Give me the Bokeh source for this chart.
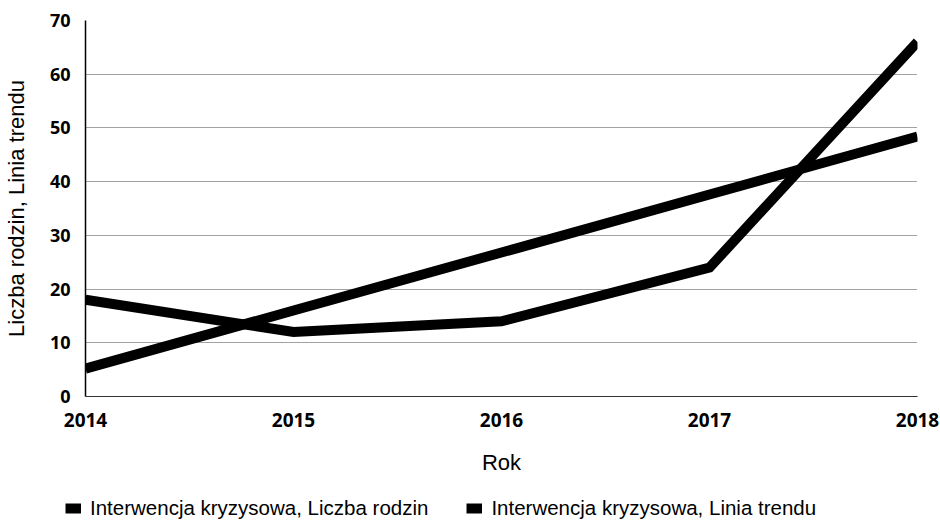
from bokeh.plotting import figure
from bokeh.models import Legend, LegendItem, Range1d, FixedTicker
from bokeh.embed import file_html
from bokeh.resources import INLINE

years = [2014, 2015, 2016, 2017, 2018]
families = [18, 12, 14, 24, 66]
trend = [5.2, 16.0, 26.8, 37.6, 48.4]
y_ticks = [0, 10, 20, 30, 40, 50, 60, 70]
series_names = ["Interwencja kryzysowa, Liczba rodzin", "Interwencja kryzysowa, Linia trendu"]
x_title = "Rok"
y_title = "Liczba rodzin, Linia trendu"

LINE = dict(line_color="black", line_width=10, line_cap="butt", line_join="miter")

p = figure(width=940, height=490, output_backend="svg", toolbar_location=None,
           x_range=Range1d(2014, 2018), y_range=Range1d(0, 70),
           min_border_left=85, min_border_right=23, min_border_top=20, min_border_bottom=94)
p.outline_line_color = None
p.background_fill_color = "white"

r1 = p.line(years, families, **LINE)
r2 = p.line(years, trend, **LINE)

p.xgrid.visible = False
p.ygrid.ticker = FixedTicker(ticks=y_ticks)
p.ygrid.grid_line_color = "#444444"
p.ygrid.grid_line_dash = "1 1"
p.ygrid.grid_line_width = 1

p.xaxis.ticker = FixedTicker(ticks=years)
p.yaxis.ticker = FixedTicker(ticks=y_ticks)
for ax in (p.xaxis[0], p.yaxis[0]):
    ax.major_tick_line_color = None
    ax.minor_tick_line_color = None
    ax.major_label_text_font = "Open Sans"
    ax.major_label_text_font_style = "bold"
    ax.major_label_text_color = "black"
    ax.axis_label_text_font = "Liberation Sans"
    ax.axis_label_text_font_style = "normal"
    ax.axis_label_text_color = "black"
    ax.axis_label_text_font_size = "22px"

p.xaxis.major_label_text_font_size = "19px"
p.yaxis.major_label_text_font_size = "18px"
p.xaxis.axis_line_color = "#333333"
p.yaxis.axis_line_color = "black"
p.yaxis.axis_line_width = 1.5
p.xaxis.major_label_standoff = 10
p.yaxis.major_label_standoff = 9
p.xaxis.axis_label = x_title
p.xaxis.axis_label_standoff = 20
p.yaxis.axis_label = y_title
p.yaxis.axis_label_standoff = 18

# legend strip below the chart; its proxy lines share the series data and style,
# but lie outside the strip's ranges, so only their legend swatches show
lg = figure(width=940, height=34, output_backend="svg", toolbar_location=None,
            x_range=Range1d(0, 1), y_range=Range1d(0, 1),
            x_axis_location=None, y_axis_location=None,
            min_border_left=0, min_border_right=0, min_border_top=0, min_border_bottom=0)
lg.outline_line_color = None
lg.grid.visible = False
k1 = lg.line(years, families, **LINE)
k2 = lg.line(years, trend, **LINE)

legend = Legend(items=[LegendItem(label=series_names[0], renderers=[k1]),
                       LegendItem(label=series_names[1], renderers=[k2])],
                orientation="horizontal", location=(65, 4),
                glyph_width=16, glyph_height=16, label_height=16,
                label_standoff=9, spacing=38, padding=0, margin=0,
                border_line_color=None, background_fill_alpha=0,
                label_text_font="Liberation Sans", label_text_font_size="20.5px",
                label_text_color="black")
lg.add_layout(legend)

open("out.html", "w").write(file_html([p, lg], INLINE))
